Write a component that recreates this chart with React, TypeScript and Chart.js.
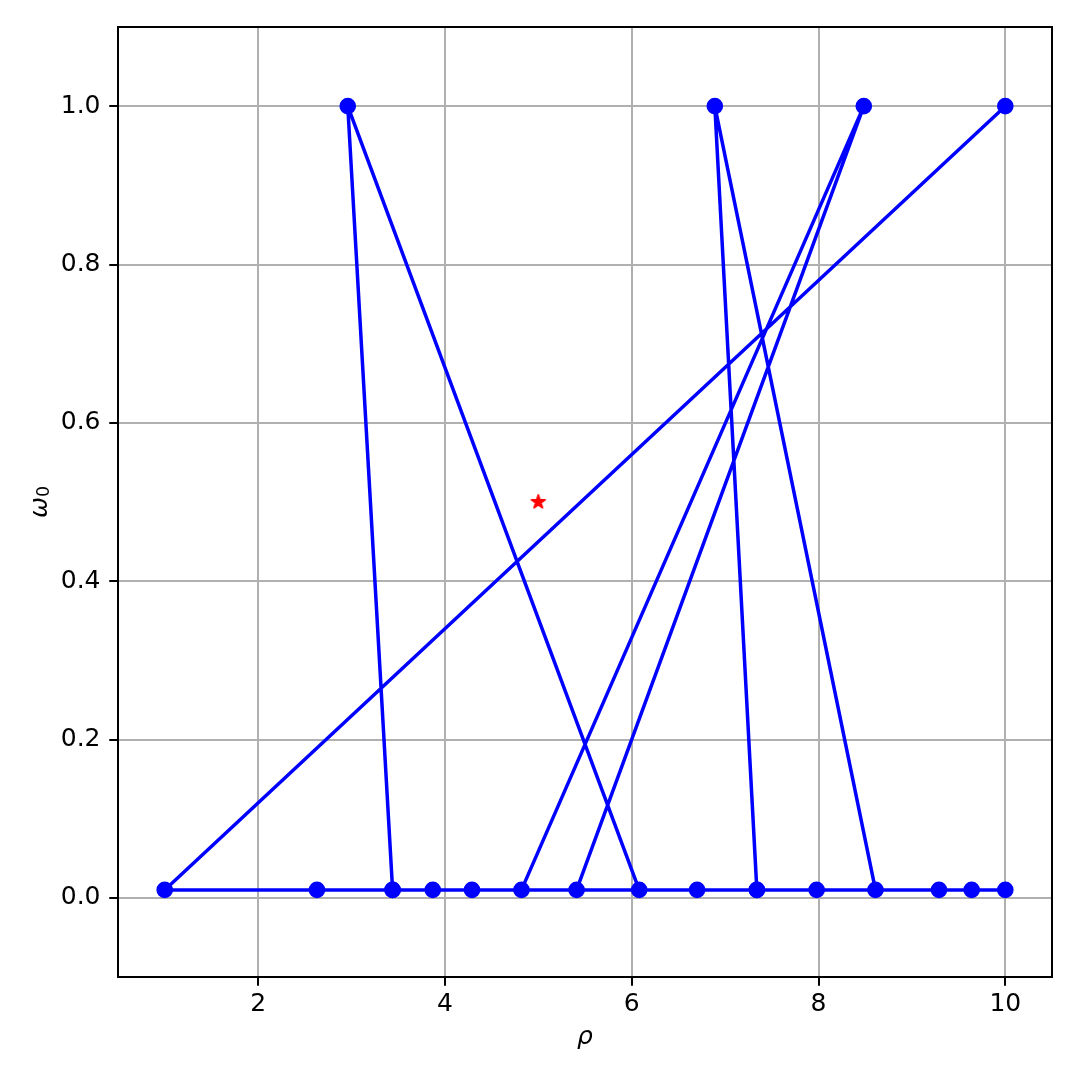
import React, { useEffect, useRef } from "react";
import { Chart, registerables } from "chart.js";

Chart.register(...registerables);

// Sequence of evaluated points (rho, omega0)
const pathX = [10.0, 1.0, 2.63, 3.44, 2.96, 6.08, 5.41, 8.485, 4.82, 4.29, 3.87, 3.44, 6.7, 7.34, 7.98, 8.61, 6.89, 7.34, 9.29, 9.64, 10.0];
const pathY = [1.0, 0.01, 0.01, 0.01, 1.0, 0.01, 0.01, 1.0, 0.01, 0.01, 0.01, 0.01, 0.01, 0.01, 0.01, 0.01, 1.0, 0.01, 0.01, 0.01, 0.01];
// Target point (red star)
const targetX = [5.0];
const targetY = [0.5];
// Tick positions
const xTicks = [2, 4, 6, 8, 10];
const yTicks = [0.0, 0.2, 0.4, 0.6, 0.8, 1.0];

const FONT = "DejaVu Sans";
const FS = 25;

function makeStar(): HTMLCanvasElement {
  const c = document.createElement("canvas");
  c.width = 22;
  c.height = 22;
  const ctx = c.getContext("2d")!;
  const cx = 11, cy = 11, R = 7.2, r = R * 0.381966;
  ctx.beginPath();
  for (let i = 0; i < 10; i++) {
    const ang = -Math.PI / 2 + (i * Math.PI) / 5;
    const rad = i % 2 === 0 ? R : r;
    const px = cx + rad * Math.cos(ang);
    const py = cy + rad * Math.sin(ang);
    if (i === 0) ctx.moveTo(px, py);
    else ctx.lineTo(px, py);
  }
  ctx.closePath();
  ctx.fillStyle = "#ff0000";
  ctx.fill();
  ctx.strokeStyle = "#ff0000";
  ctx.lineWidth = 1.6;
  ctx.lineJoin = "round";
  ctx.stroke();
  return c;
}

const framePlugin = {
  id: "frameAndLabels",
  afterDatasetsDraw(chart: any) {
    const { ctx, chartArea } = chart;
    ctx.save();
    ctx.strokeStyle = "#000";
    ctx.lineWidth = 2;
    ctx.strokeRect(chartArea.left, chartArea.top, chartArea.right - chartArea.left, chartArea.bottom - chartArea.top);
    ctx.restore();
  },
  afterDraw(chart: any) {
    const { ctx, chartArea } = chart;
    ctx.save();
    ctx.fillStyle = "#000";
    // x label: rho
    ctx.font = `italic ${FS}px "${FONT}"`;
    ctx.textAlign = "center";
    ctx.textBaseline = "alphabetic";
    ctx.fillText("ρ", (chartArea.left + chartArea.right) / 2, 1044);
    // y label: omega_0
    const cy = (chartArea.top + chartArea.bottom) / 2;
    ctx.font = `italic ${FS}px "${FONT}"`;
    const w1 = ctx.measureText("ω").width;
    ctx.font = `${FS * 0.7}px "${FONT}"`;
    const w2 = ctx.measureText("0").width;
    const total = w1 + w2;
    ctx.translate(47, cy + total / 2);
    ctx.rotate(-Math.PI / 2);
    ctx.textAlign = "left";
    ctx.font = `italic ${FS}px "${FONT}"`;
    ctx.fillText("ω", 0, 0);
    ctx.font = `${FS * 0.7}px "${FONT}"`;
    ctx.fillText("0", w1, 2);
    ctx.restore();
  },
};

export default function App() {
  const ref = useRef<HTMLCanvasElement | null>(null);

  useEffect(() => {
    if (!ref.current) return;
    const star = makeStar();
    const gridCommon = {
      color: "#b0b0b0",
      lineWidth: 2,
      tickColor: "#000",
      tickLength: 8.75,
      tickWidth: 2,
      drawTicks: true,
    };
    const chart = new Chart(ref.current, {
      type: "line",
      data: {
        datasets: [
          {
            data: pathX.map((x, i) => ({ x, y: pathY[i] })),
            borderColor: "#0000ff",
            backgroundColor: "#0000ff",
            borderWidth: 3.5,
            borderJoinStyle: "round",
            pointRadius: 7.3,
            pointBorderWidth: 2,
            pointBackgroundColor: "#0000ff",
            pointBorderColor: "#0000ff",
            tension: 0,
            fill: false,
          },
          {
            data: targetX.map((x, i) => ({ x, y: targetY[i] })),
            showLine: false,
            pointStyle: star as any,
            pointRadius: 8,
            borderColor: "#ff0000",
            backgroundColor: "#ff0000",
          },
        ],
      },
      options: {
        animation: false,
        responsive: false,
        devicePixelRatio: 1,
        layout: { padding: { top: 27, right: 28, left: 0, bottom: 0 } },
        plugins: { legend: { display: false }, tooltip: { enabled: false } },
        scales: {
          x: {
            type: "linear",
            min: 0.5,
            max: 10.5,
            afterBuildTicks: (s: any) => {
              s.ticks = xTicks.map((v) => ({ value: v }));
            },
            afterFit: (s: any) => {
              s.height = 103;
            },
            grid: gridCommon,
            border: { display: false },
            ticks: {
              color: "#000",
              font: { family: FONT, size: FS },
              padding: 4,
              maxRotation: 0,
              autoSkip: false,
              callback: (v: any) => String(v),
            },
          },
          y: {
            type: "linear",
            min: -0.1,
            max: 1.1,
            afterBuildTicks: (s: any) => {
              s.ticks = yTicks.map((v) => ({ value: v }));
            },
            afterFit: (s: any) => {
              s.width = 118;
            },
            grid: gridCommon,
            border: { display: false },
            ticks: {
              color: "#000",
              font: { family: FONT, size: FS },
              padding: 8.75,
              autoSkip: false,
              callback: (v: any) => Number(v).toFixed(1),
            },
          },
        },
      },
      plugins: [framePlugin],
    });
    return () => chart.destroy();
  }, []);

  return (
    <div style={{ position: "absolute", left: 0, top: 0, width: 1080, height: 1080, background: "#fff" }}>
      <canvas ref={ref} width={1080} height={1080} style={{ display: "block", width: 1080, height: 1080 }} />
    </div>
  );
}
